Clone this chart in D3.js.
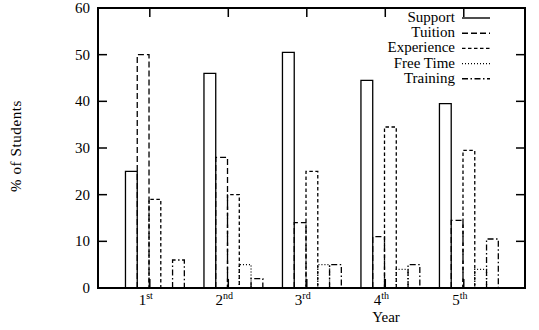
<!DOCTYPE html>
<html>
<head>
<meta charset="utf-8">
<script src="https://cdn.jsdelivr.net/npm/d3@7"></script>
<style>
  html, body { margin: 0; padding: 0; background: #fff; }
  svg { display: block; }
  text { font-family: "Liberation Serif", "Times New Roman", serif; fill: #000; }
</style>
</head>
<body>
<svg id="chart" width="539" height="330"></svg>
<script>
// Year of study (x positions) and their ordinal labels
const years = [1, 2, 3, 4, 5];
const yearNumbers = ["1", "2", "3", "4", "5"];
const yearSuffixes = ["st", "nd", "rd", "th", "th"];

// Series names, in drawing order
const seriesNames = ["Support", "Tuition", "Experience", "Free Time", "Training"];

// Percentage of students per year, one array per series
const support    = [25, 46, 50.5, 44.5, 39.5];
const tuition    = [50, 28, 14, 11, 14.5];
const experience = [19, 20, 25, 34.5, 29.5];
const freeTime   = [0, 5, 5, 4, 4];
const training   = [6, 2, 5, 5, 10.5];

// Y axis ticks
const yTicks = [0, 10, 20, 30, 40, 50, 60];

const seriesValues = [support, tuition, experience, freeTime, training];
const dashes = ["none", "6,3", "3.5,2.5", "1,2", "6,2.5,1.5,2.5"];

const svg = d3.select("#chart");
const plotL = 98, plotR = 525, plotT = 8, plotB = 288;

const x = d3.scaleLinear().domain([0.34, 5.78]).range([plotL, plotR]);
const y = d3.scaleLinear().domain([0, 60]).range([plotB, plotT]);

// bar layout in year units
const barW = 0.15, groupOffset = -0.31;
const bw = x(barW) - x(0);

const bars = svg.append("g");
seriesNames.forEach((name, s) => {
  years.forEach((yr, i) => {
    const v = seriesValues[s][i];
    const x0 = x(yr + groupOffset + barW * s);
    const x1 = x0 + bw;
    const p = d3.path();
    p.moveTo(x0, y(0));
    p.lineTo(x0, y(v));
    p.lineTo(x1, y(v));
    p.lineTo(x1, y(0));
    bars.append("path")
      .attr("d", p.toString())
      .attr("fill", "none")
      .attr("stroke", "#000")
      .attr("stroke-width", 1.3)
      .attr("stroke-dasharray", dashes[s]);
  });
});

// frame
svg.append("rect")
  .attr("x", plotL).attr("y", plotT)
  .attr("width", plotR - plotL).attr("height", plotB - plotT)
  .attr("fill", "none").attr("stroke", "#000").attr("stroke-width", 2);

const tickLen = 9;
const ticks = svg.append("g").attr("stroke", "#000").attr("stroke-width", 1.5);
yTicks.forEach(t => {
  ticks.append("line").attr("x1", plotL).attr("x2", plotL + tickLen).attr("y1", y(t)).attr("y2", y(t));
  ticks.append("line").attr("x1", plotR).attr("x2", plotR - tickLen).attr("y1", y(t)).attr("y2", y(t));
});
years.forEach(yr => {
  ticks.append("line").attr("x1", x(yr)).attr("x2", x(yr)).attr("y1", plotT).attr("y2", plotT + tickLen);
  ticks.append("line").attr("x1", x(yr)).attr("x2", x(yr)).attr("y1", plotB).attr("y2", plotB - tickLen);
});

// y tick labels
svg.append("g").selectAll("text").data(yTicks).join("text")
  .attr("x", 90).attr("y", d => y(d) + 5)
  .attr("text-anchor", "end")
  .attr("font-size", 15)
  .text(d => d);

// x tick labels with ordinal superscripts
years.forEach((yr, i) => {
  const t = svg.append("text")
    .attr("x", x(yr) - 4).attr("y", 305)
    .attr("text-anchor", "middle")
    .attr("font-size", 15);
  t.append("tspan").text(yearNumbers[i]);
  t.append("tspan").attr("font-size", 10).attr("dy", -6).text(yearSuffixes[i]);
});

// axis titles
svg.append("text")
  .attr("x", 386).attr("y", 322)
  .attr("text-anchor", "middle")
  .attr("font-size", 15)
  .text("Year");

svg.append("text")
  .attr("transform", "translate(21,146) rotate(-90)")
  .attr("text-anchor", "middle")
  .attr("font-size", 15)
  .attr("letter-spacing", 0.6)
  .text("% of Students");

// legend
const legend = svg.append("g");
seriesNames.forEach((name, s) => {
  const by = 22 + 15.2 * s;
  legend.append("text")
    .attr("x", 455).attr("y", by)
    .attr("text-anchor", "end")
    .attr("font-size", 15)
    .text(name);
  legend.append("line")
    .attr("x1", 462).attr("x2", 490)
    .attr("y1", by - 4).attr("y2", by - 4)
    .attr("stroke", "#000").attr("stroke-width", 1.4)
    .attr("stroke-dasharray", dashes[s]);
});
</script>
</body>
</html>
